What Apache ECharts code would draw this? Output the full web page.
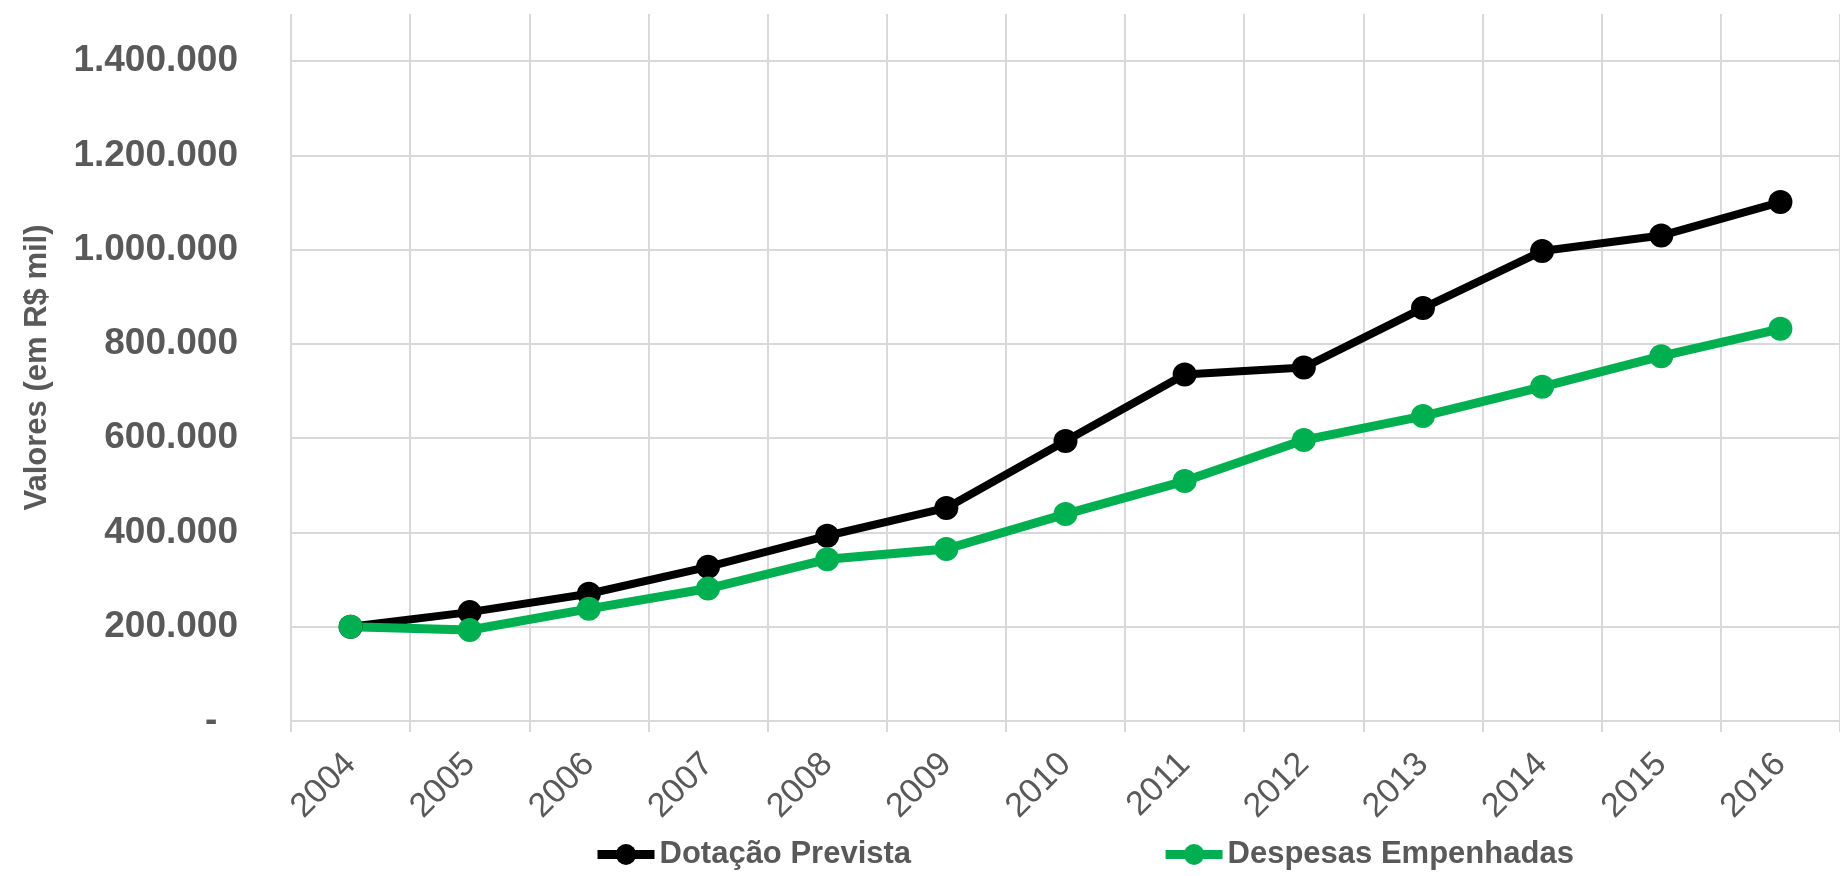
<!DOCTYPE html>
<html>
<head>
<meta charset="utf-8">
<script src="https://cdn.jsdelivr.net/npm/echarts@6/dist/echarts.min.js"></script>
<style>
  html, body { margin: 0; padding: 0; background: #fff; }
  #chart { width: 1840px; height: 876px; }
</style>
</head>
<body>
<div id="chart"></div>
<script>
const years = ['2004', '2005', '2006', '2007', '2008', '2009', '2010', '2011', '2012', '2013', '2014', '2015', '2016']
const dotacaoPrevista = [200000, 231000, 270000, 327000, 393000, 452000, 594000, 735000, 750000, 876000, 997000, 1030000, 1101000]
const despesasEmpenhadas = [200000, 193000, 238000, 281000, 343000, 365000, 439000, 509000, 596000, 647000, 709000, 774000, 832000]
const yTicks = [0, 200000, 400000, 600000, 800000, 1000000, 1200000, 1400000]

const fontFamily = "'Liberation Sans', Arial, sans-serif"
const textGrey = '#595959'
const gridGrey = '#d9d9d9'

// Excel-style number labels: dots as thousand separators, dash for zero
const fmt = (v) => {
  if (v === 0) return '-  '
  if (!yTicks.includes(v)) return ''
  return String(v).replace(/\B(?=(\d{3})+(?!\d))/g, '.')
}

const chart = echarts.init(document.getElementById('chart'))

const option = {
  animation: false,
  backgroundColor: '#fff',
  textStyle: { fontFamily },
  grid: {
    left: 291,
    right: -22,
    top: 14,
    bottom: 155
  },
  legend: {
    left: 588,
    top: 834,
    itemGap: 250,
    itemWidth: 57,
    itemHeight: 26,
    lineStyle: { width: 9 },
    textStyle: {
      color: textGrey,
      fontSize: 31,
      fontWeight: 'bold',
      fontFamily
    },
    data: ['Dotação Prevista', 'Despesas Empenhadas']
  },
  xAxis: {
    type: 'category',
    data: years,
    boundaryGap: true,
    axisLine: { show: true, lineStyle: { color: gridGrey, width: 2 } },
    axisTick: { show: true, length: 11, lineStyle: { color: gridGrey, width: 2 } },
    splitLine: { show: true, lineStyle: { color: gridGrey, width: 2 } },
    axisLabel: {
      rotate: 45,
      margin: 38,
      color: textGrey,
      fontSize: 34,
      fontFamily
    }
  },
  yAxis: {
    type: 'value',
    min: 0,
    max: 1500000,
    interval: 200000,
    name: 'Valores (em R$ mil)',
    nameLocation: 'middle',
    nameRotate: 90,
    nameGap: 238,
    nameTextStyle: {
      color: textGrey,
      fontSize: 31,
      fontWeight: 'bold',
      fontFamily
    },
    axisLine: { show: false },
    axisTick: { show: false },
    splitLine: {
      show: true,
      showMaxLine: false,
      lineStyle: { color: gridGrey, width: 2 }
    },
    axisLabel: {
      margin: 53,
      color: textGrey,
      fontSize: 37,
      fontWeight: 'bold',
      fontFamily,
      formatter: fmt
    }
  },
  series: [
    {
      name: 'Dotação Prevista',
      type: 'line',
      data: dotacaoPrevista,
      symbol: 'circle',
      symbolSize: 24,
      color: '#000000',
      lineStyle: { color: '#000000', width: 8 },
      itemStyle: { color: '#000000' }
    },
    {
      name: 'Despesas Empenhadas',
      type: 'line',
      data: despesasEmpenhadas,
      symbol: 'circle',
      symbolSize: 24,
      color: '#00b050',
      lineStyle: { color: '#00b050', width: 9 },
      itemStyle: { color: '#00b050' }
    }
  ]
}

chart.setOption(option)
</script>
</body>
</html>
